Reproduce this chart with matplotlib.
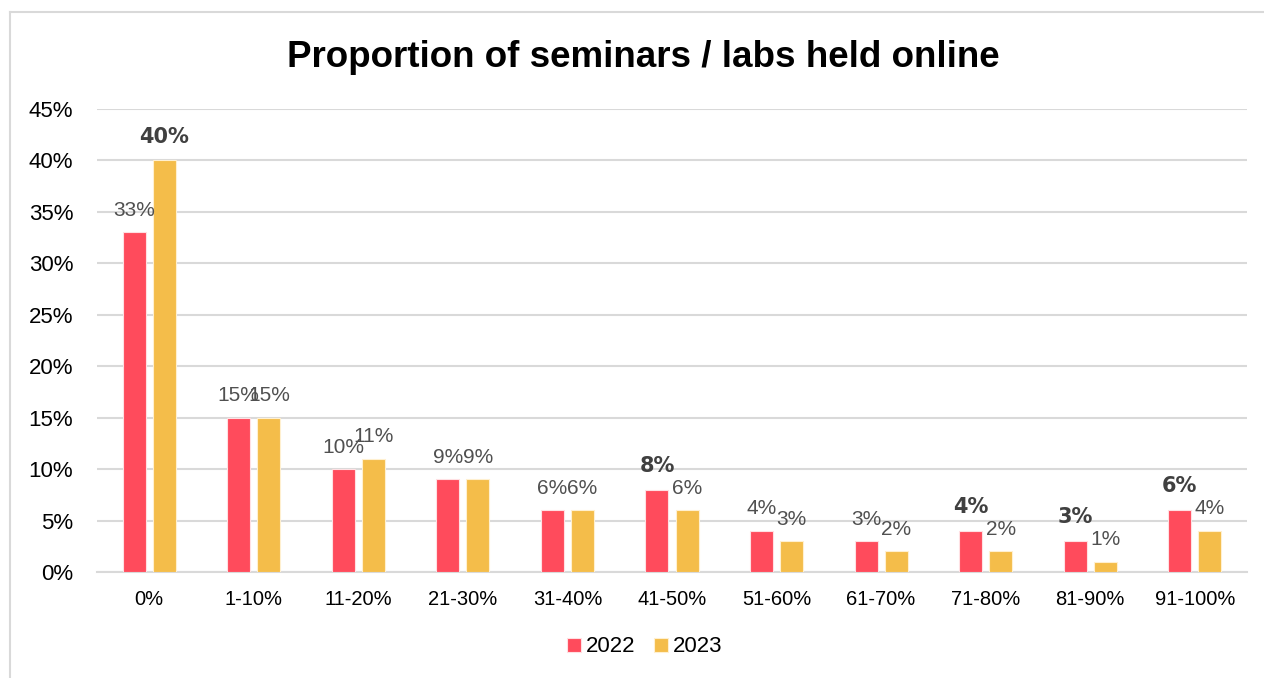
import matplotlib.pyplot as plt
import numpy as np
from matplotlib.lines import Line2D

plt.rcParams['font.family'] = ['Liberation Sans', 'DejaVu Sans']

# Data
categories = ['0%', '1-10%', '11-20%', '21-30%', '31-40%', '41-50%',
              '51-60%', '61-70%', '71-80%', '81-90%', '91-100%']
y2022 = [33, 15, 10, 9, 6, 8, 4, 3, 4, 3, 6]
y2023 = [40, 15, 11, 9, 6, 6, 3, 2, 2, 1, 4]
bold2022 = [False, False, False, False, False, True, False, False, True, True, True]
bold2023 = [True, False, False, False, False, False, False, False, False, False, False]

red = '#FF4B5C'
yellow = '#F4BD4A'
label_color = '#404040'
grid_color = '#D9D9D9'

fig = plt.figure(figsize=(12.64, 6.78), dpi=100)
ax = fig.add_axes([0.0767, 0.1563, 0.9099, 0.6829])

x = np.arange(len(categories))
w = 0.22
off = 0.144
b1 = ax.bar(x - off, [v / 100 for v in y2022], w, color=red, edgecolor='#FFE0E3',
            linewidth=0.8, label='2022', zorder=3)
b2 = ax.bar(x + off, [v / 100 for v in y2023], w, color=yellow, edgecolor='#FFF0D0',
            linewidth=0.8, label='2023', zorder=3)

# Data labels (bold ones use a wider, heavier face like the original)
for bars, vals, bolds in [(b1, y2022, bold2022), (b2, y2023, bold2023)]:
    for rect, v, b in zip(bars, vals, bolds):
        cx = rect.get_x() + rect.get_width() / 2
        top = rect.get_height()
        if b:
            ax.annotate(f'{v}%', (cx, top), xytext=(0, 10), textcoords='offset points',
                        ha='center', va='bottom', color=label_color,
                        fontsize=15, fontweight='bold', family=['DejaVu Sans'])
        else:
            ax.annotate(f'{v}%', (cx, top), xytext=(0, 9), textcoords='offset points',
                        ha='center', va='bottom', color='#505050', fontsize=15)

ax.set_xlim(-0.5, len(categories) - 0.5)
ax.set_ylim(0, 0.45)
ticks = np.arange(0, 0.451, 0.05)
ax.set_yticks(ticks)
ax.set_yticklabels([f'{int(round(t * 100))}%' for t in ticks])
ax.set_xticks(x)
ax.set_xticklabels(categories)
ax.tick_params(axis='y', length=0, labelsize=16, pad=17)
ax.tick_params(axis='x', length=0, labelsize=14.5, pad=13)
ax.grid(axis='y', color=grid_color, linewidth=1.5, zorder=0)
for s in ['top', 'right', 'left']:
    ax.spines[s].set_visible(False)
ax.spines['bottom'].set_color(grid_color)
ax.spines['bottom'].set_linewidth(1.5)

fig.text(643 / 1264, 1 - 67 / 678, 'Proportion of seminars / labs held online',
         fontsize=26.5, fontweight='bold', ha='center', va='baseline')

fig.legend(handles=[b1, b2], loc='center', bbox_to_anchor=(645 / 1264, 1 - 647 / 678),
           ncol=2, frameon=False, fontsize=16, handlelength=0.6, handleheight=0.6,
           handletextpad=0.25, columnspacing=0.85)

# Outer chart border
fig.add_artist(Line2D([10 / 1264, 10 / 1264], [0, 1 - 12 / 678], color=grid_color, lw=1.5))
fig.add_artist(Line2D([10 / 1264, 1], [1 - 12 / 678, 1 - 12 / 678], color=grid_color, lw=1.5))

plt.savefig('out.png', dpi=100)
plt.close()
